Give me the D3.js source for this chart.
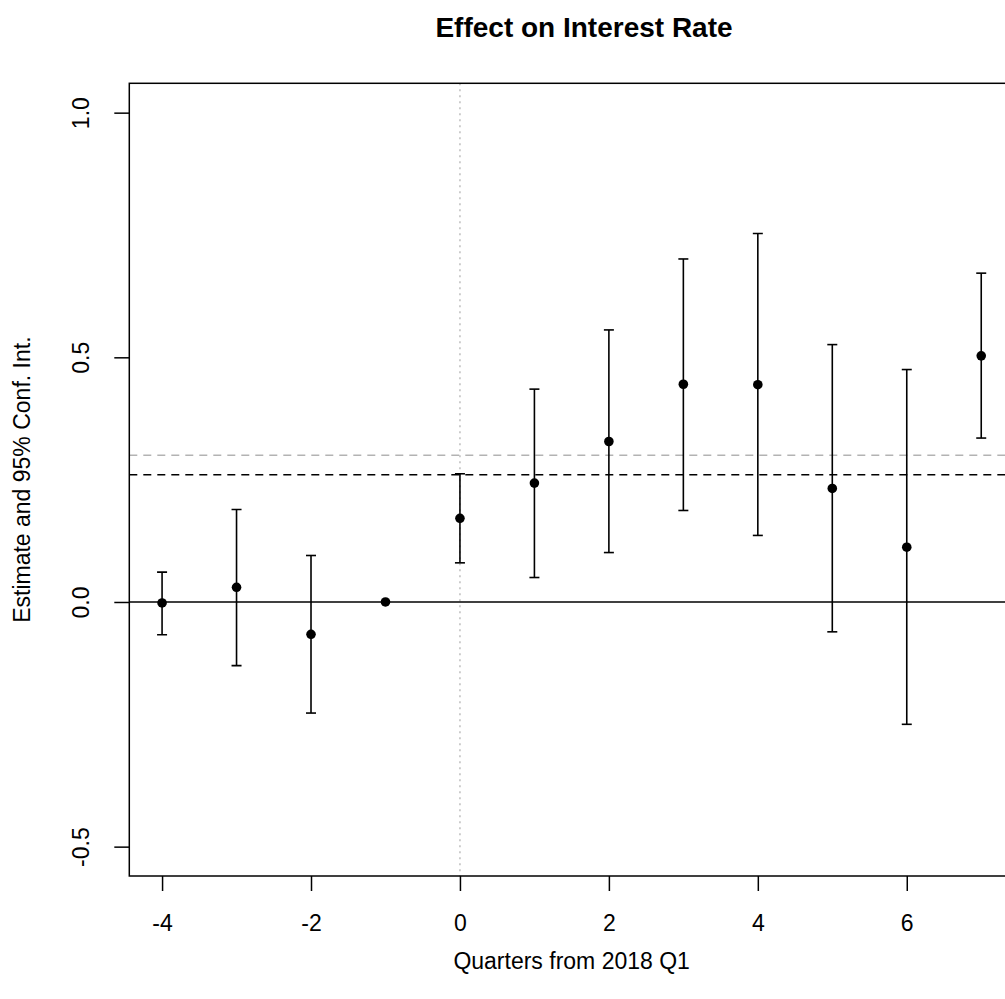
<!DOCTYPE html>
<html>
<head>
<meta charset="utf-8">
<script src="https://cdn.jsdelivr.net/npm/d3@7"></script>
<style>
  html, body { margin: 0; padding: 0; background: #fff; }
  svg { display: block; font-family: "Liberation Sans", Arial, Helvetica, sans-serif; }
</style>
</head>
<body>
<script>
// Event-study estimates with 95% confidence intervals
const quarters = [-4, -3, -2, -1, 0, 1, 2, 3, 4, 5, 6, 7];
const estimate = [-0.002, 0.030, -0.066, 0.000, 0.171, 0.243, 0.328, 0.445, 0.444, 0.232, 0.112, 0.503];
const ciLower  = [-0.067, -0.130, -0.227, 0.000, 0.080, 0.050, 0.101, 0.187, 0.136, -0.061, -0.250, 0.335];
const ciUpper  = [0.061, 0.189, 0.095, 0.000, 0.262, 0.435, 0.556, 0.701, 0.753, 0.526, 0.475, 0.672];

const xTicks = [-4, -2, 0, 2, 4, 6];
const yTicks = [-0.5, 0.0, 0.5, 1.0];
const xLimits = [-4, 7];
const yLimits = [-0.5, 1.0];

// reference lines
const refBlack = 0.26;
const refGray = 0.30;
const eventTime = 0;

const W = 1005, H = 999;
const plot = { left: 129.3, right: 1014, top: 83.3, bottom: 876 };

// R-style 4% axis extension
const pad = (lim) => { const d = (lim[1] - lim[0]) * 0.04; return [lim[0] - d, lim[1] + d]; };

const x = d3.scaleLinear().domain(pad(xLimits)).range([plot.left, plot.right]);
const y = d3.scaleLinear().domain(pad(yLimits)).range([plot.bottom, plot.top]);

// plain hyphen for negatives
const hyph = (f) => (d) => f(d).replace("\u2212", "-");

const svg = d3.select("body").append("svg").attr("width", W).attr("height", H);

svg.append("defs").append("clipPath").attr("id", "plotclip")
  .append("rect").attr("x", plot.left).attr("y", plot.top)
  .attr("width", plot.right - plot.left).attr("height", plot.bottom - plot.top);

const g = svg.append("g").attr("clip-path", "url(#plotclip)");

// vertical dotted line at the event quarter
g.append("line")
  .attr("x1", x(eventTime)).attr("x2", x(eventTime))
  .attr("y1", plot.top).attr("y2", plot.bottom)
  .attr("stroke", "#bebebe").attr("stroke-width", 1.5).attr("stroke-dasharray", "2,4");

// zero line
g.append("line")
  .attr("x1", plot.left).attr("x2", plot.right)
  .attr("y1", y(0)).attr("y2", y(0))
  .attr("stroke", "#000").attr("stroke-width", 1.5);

// dashed horizontal reference lines
g.append("line")
  .attr("x1", plot.left).attr("x2", plot.right)
  .attr("y1", y(refGray)).attr("y2", y(refGray))
  .attr("stroke", "#b3b3b3").attr("stroke-width", 1.5).attr("stroke-dasharray", "8,6");
g.append("line")
  .attr("x1", plot.left).attr("x2", plot.right)
  .attr("y1", y(refBlack)).attr("y2", y(refBlack))
  .attr("stroke", "#000").attr("stroke-width", 1.5).attr("stroke-dasharray", "8,6");

const rows = quarters.map((q, i) => ({ q, est: estimate[i], lo: ciLower[i], hi: ciUpper[i] }));
const bars = rows.filter(d => d.hi !== d.lo);

// confidence interval whiskers
g.selectAll("line.ci").data(bars).join("line").attr("class", "ci")
  .attr("x1", d => x(d.q)).attr("x2", d => x(d.q))
  .attr("y1", d => y(d.lo)).attr("y2", d => y(d.hi))
  .attr("stroke", "#000").attr("stroke-width", 1.6);
const capW = 5;
g.selectAll("line.capHi").data(bars).join("line").attr("class", "capHi")
  .attr("x1", d => x(d.q) - capW).attr("x2", d => x(d.q) + capW)
  .attr("y1", d => y(d.hi)).attr("y2", d => y(d.hi))
  .attr("stroke", "#000").attr("stroke-width", 1.6);
g.selectAll("line.capLo").data(bars).join("line").attr("class", "capLo")
  .attr("x1", d => x(d.q) - capW).attr("x2", d => x(d.q) + capW)
  .attr("y1", d => y(d.lo)).attr("y2", d => y(d.lo))
  .attr("stroke", "#000").attr("stroke-width", 1.6);

// point estimates
g.selectAll("circle.pt").data(rows).join("circle").attr("class", "pt")
  .attr("cx", d => x(d.q)).attr("cy", d => y(d.est)).attr("r", 4.8)
  .attr("fill", "#000");

// plot frame
svg.append("rect")
  .attr("x", plot.left).attr("y", plot.top)
  .attr("width", plot.right - plot.left).attr("height", plot.bottom - plot.top)
  .attr("fill", "none").attr("stroke", "#000").attr("stroke-width", 1.5);

// x axis
const xAxis = svg.append("g").attr("transform", `translate(0,${plot.bottom})`)
  .call(d3.axisBottom(x).tickValues(xTicks).tickSize(15).tickPadding(24).tickFormat(hyph(d3.format("d"))));
xAxis.select(".domain").remove();
xAxis.selectAll(".tick line").attr("stroke", "#000").attr("stroke-width", 1.5);
xAxis.selectAll(".tick text").attr("font-size", 23).attr("fill", "#000")
  .attr("font-family", "Liberation Sans, Arial, sans-serif");

// y axis with rotated labels
const yAxis = svg.append("g").attr("transform", `translate(${plot.left},0)`)
  .call(d3.axisLeft(y).tickValues(yTicks).tickSize(15).tickFormat(hyph(d3.format(".1f"))));
yAxis.select(".domain").remove();
yAxis.selectAll(".tick line").attr("stroke", "#000").attr("stroke-width", 1.5);
yAxis.selectAll(".tick text")
  .attr("font-size", 23).attr("fill", "#000")
  .attr("font-family", "Liberation Sans, Arial, sans-serif")
  .attr("x", null).attr("dy", null)
  .attr("text-anchor", "middle")
  .attr("transform", "translate(-40,0) rotate(-90)");

// title and axis titles
const midX = (plot.left + plot.right) / 2;
svg.append("text")
  .attr("x", 584).attr("y", 37)
  .attr("text-anchor", "middle").attr("font-size", 28).attr("font-weight", "bold")
  .text("Effect on Interest Rate");

svg.append("text")
  .attr("x", midX).attr("y", 969)
  .attr("text-anchor", "middle").attr("font-size", 23)
  .text("Quarters from 2018 Q1");

svg.append("text")
  .attr("transform", `translate(30,${(plot.top + plot.bottom) / 2}) rotate(-90)`)
  .attr("text-anchor", "middle").attr("font-size", 23)
  .text("Estimate and 95% Conf. Int.");
</script>
</body>
</html>
